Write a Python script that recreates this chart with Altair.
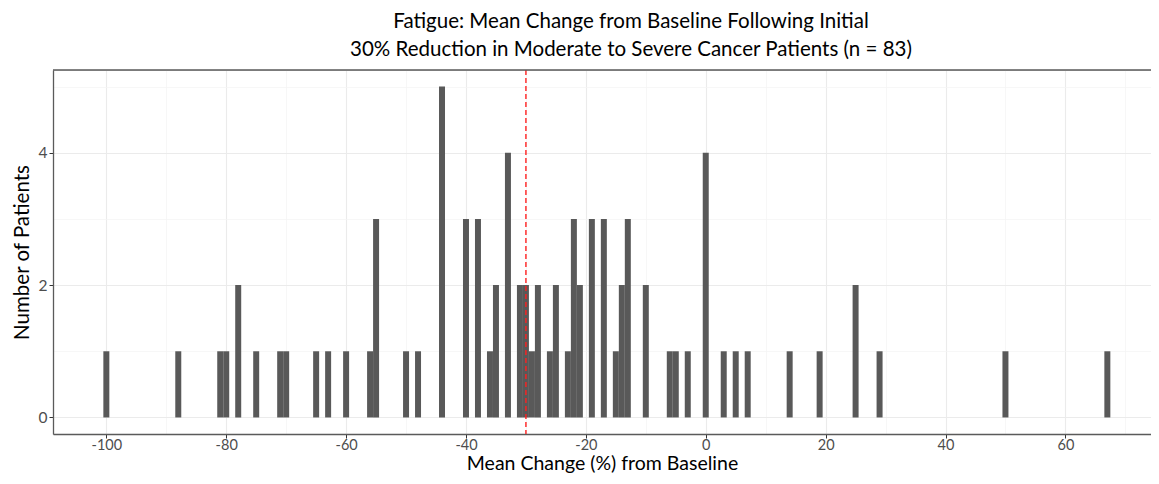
import altair as alt
import pandas as pd

# Histogram bins (bin width 1, centred on integer % change) and patient counts
bin_centers = [-100, -88, -81, -80, -78, -75, -71, -70, -65, -63, -60, -56, -55,
               -50, -48, -44, -40, -38, -36, -35, -33, -31, -30, -29, -28, -26,
               -25, -23, -22, -21, -19, -17, -15, -14, -13, -10, -6, -5, -3, 0,
               3, 5, 7, 14, 19, 25, 29, 50, 67]
counts = [1, 1, 1, 1, 2, 1, 1, 1, 1, 1, 1, 1, 3,
          1, 1, 5, 3, 3, 1, 2, 4, 2, 2, 1, 2, 1,
          2, 1, 3, 2, 3, 3, 1, 2, 3, 2, 1, 1, 1, 4,
          1, 1, 1, 1, 1, 2, 1, 1, 1]
threshold = [-30]

x_ticks = list(range(-100, 80, 10))
y_ticks = [0, 1, 2, 3, 4, 5]

df = pd.DataFrame({"center": bin_centers, "count": counts})
df["lo"] = df["center"] - 0.5
df["hi"] = df["center"] + 0.5
df["zero"] = 0
ref = pd.DataFrame({"x": threshold})

W, H = 1098, 364
FONT = "Lato"
x_scale = alt.Scale(domain=[-108.9, -108.9 + W / 5.994], nice=False, zero=False)
y_scale = alt.Scale(domain=[-0.25, 5.25], nice=False, zero=False)

x_axis = alt.Axis(
    values=x_ticks,
    labelExpr="datum.value % 20 == 0 ? '' + datum.value : ''",
    title="Mean Change (%) from Baseline",
    titleFont=FONT, titleFontSize=19.5, titleFontWeight="normal", titleColor="#000000",
    titlePadding=3,
    labelFont=FONT, labelFontSize=14.5, labelColor="#4D4D4D", labelPadding=0,
    tickSize=4, tickColor="#333333",
    tickOpacity={"condition": {"test": "datum.value % 20 == 0", "value": 1}, "value": 0},
    gridColor={"condition": {"test": "datum.value % 20 == 0", "value": "#EBEBEB"}, "value": "#F3F3F3"},
    gridWidth={"condition": {"test": "datum.value % 20 == 0", "value": 1.1}, "value": 0.7},
    domainColor="#5A5A5A", domainWidth=1.3,
)
y_axis = alt.Axis(
    values=y_ticks,
    labelExpr="datum.value % 2 == 0 ? '' + datum.value : ''",
    title="Number of Patients",
    titleFont=FONT, titleFontSize=20.5, titleFontWeight="normal", titleColor="#000000",
    titlePadding=6,
    labelFont=FONT, labelFontSize=15.5, labelColor="#4D4D4D", labelPadding=2,
    tickSize=4, tickColor="#333333",
    tickOpacity={"condition": {"test": "datum.value % 2 == 0", "value": 1}, "value": 0},
    gridColor={"condition": {"test": "datum.value % 2 == 0", "value": "#EBEBEB"}, "value": "#F3F3F3"},
    gridWidth={"condition": {"test": "datum.value % 2 == 0", "value": 1.1}, "value": 0.7},
    domainColor="#5A5A5A", domainWidth=1.3,
)

bars = alt.Chart(df).mark_bar(color="#595959", strokeWidth=0).encode(
    x=alt.X("lo:Q", scale=x_scale, axis=x_axis),
    x2="hi:Q",
    y=alt.Y("zero:Q", scale=y_scale, axis=y_axis),
    y2="count:Q",
)

vline = alt.Chart(ref).mark_rule(color="#FF2020", strokeWidth=1.4, strokeDash=[5, 3]).encode(
    x=alt.X("x:Q", scale=x_scale)
)

top_border = alt.Chart(ref).mark_rule(color="#5A5A5A", strokeWidth=1.3).encode(
    x=alt.value(0), x2=alt.value(W), y=alt.value(0)
)

chart = alt.layer(bars, vline, top_border).properties(
    width=W,
    height=H,
    autosize=alt.AutoSizeParams(type="none"),
    padding={"left": 45, "top": 62, "right": 0, "bottom": 42},
    title=alt.Title(
        ["Fatigue: Mean Change from Baseline Following Initial",
         "30% Reduction in Moderate to Severe Cancer Patients (n = 83)"],
        font=FONT, fontSize=20.5, fontWeight="normal", color="#000000",
        anchor="middle", dx=29, offset=9, lineHeight=28,
    ),
).configure_view(stroke=None).configure(background="white")

chart.save("out.html", embed_options={"renderer": "svg", "actions": False})
